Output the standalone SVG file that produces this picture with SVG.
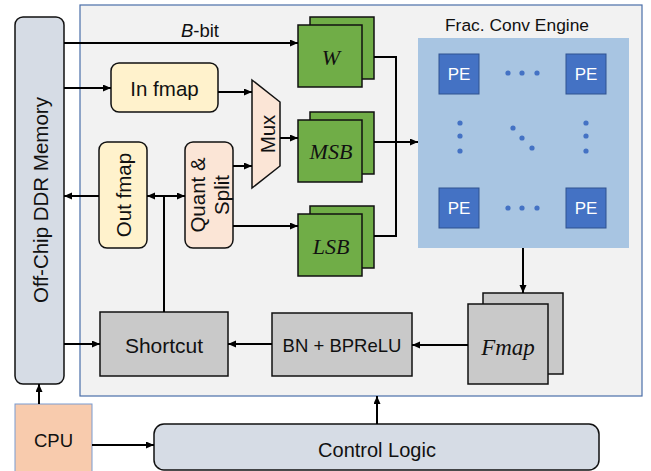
<svg xmlns="http://www.w3.org/2000/svg" width="651" height="471" viewBox="0 0 651 471">
<defs>
<marker id="ah" markerWidth="9" markerHeight="8" refX="8" refY="3.5" orient="auto-start-reverse" markerUnits="userSpaceOnUse">
<path d="M0,0 L8,3.5 L0,7 z" fill="#000"/>
</marker>
<style>
text{font-family:"Liberation Sans",Arial,sans-serif;font-size:20.5px;fill:#111;text-anchor:middle;dominant-baseline:central}
.it{font-family:"Liberation Serif","Times New Roman",serif;font-style:italic;font-size:22px}
.bx{stroke:#111;stroke-width:1.5}
.grn{fill:#70ad47;stroke:#111;stroke-width:1.5}
.gry{fill:#c9c9c9;stroke:#111;stroke-width:1.5}
.pe{fill:#4472c4;stroke:#2f528f;stroke-width:1}
.pet{fill:#fff;font-size:17px}
.dot{fill:#4472c4}
.ln{fill:none;stroke:#000;stroke-width:2}
.ar{marker-end:url(#ah)}
</style>
</defs>
<rect width="651" height="471" fill="#fff"/>
<g id="container"><rect x="80" y="5" width="562" height="391" fill="#f2f2f2" stroke="#4a6ea8" stroke-width="1.2"/></g>
<g id="ddr"><rect class="bx" x="15" y="17" width="49" height="367" rx="8" fill="#d6dce5"/><text transform="translate(40,200) rotate(-90)">Off-Chip DDR Memory</text></g>
<g id="infmap"><rect class="bx" x="111" y="63" width="107" height="49" rx="8" fill="#fff2cc"/><text x="164.5" y="88">In fmap</text></g>
<g id="outfmap"><rect class="bx" x="99" y="142" width="48" height="106" rx="8" fill="#fff2cc"/><text transform="translate(123,195) rotate(-90)">Out fmap</text></g>
<g id="quant"><rect class="bx" x="185" y="142" width="48" height="106" rx="8" fill="#fbe5d6"/><text transform="translate(197,195) rotate(-90)">Quant &amp;</text><text transform="translate(221,195) rotate(-90)">Split</text></g>
<g id="mux"><path class="bx" d="M252,80 L280,102 L280,166 L252,188 Z" fill="#fbe5d6"/><text transform="translate(267,134) rotate(-90)">Mux</text></g>
<g id="w"><rect class="grn" x="310" y="17" width="64" height="62"/><rect class="grn" x="298" y="25" width="64" height="62"/><text class="it" x="331" y="57">W</text></g>
<g id="msb"><rect class="grn" x="310" y="112" width="64" height="62"/><rect class="grn" x="298" y="120" width="64" height="62"/><text class="it" x="331" y="151">MSB</text></g>
<g id="lsb"><rect class="grn" x="310" y="206" width="64" height="62"/><rect class="grn" x="298" y="214" width="64" height="62"/><text class="it" x="331" y="246">LSB</text></g>
<g id="engine">
<text x="517" y="25" style="font-size:17.4px">Frac. Conv Engine</text>
<rect x="418" y="38" width="211" height="210" fill="#a8c5e2"/>
<rect class="pe" x="439" y="54" width="40" height="40"/><text class="pet" x="459" y="74">PE</text>
<rect class="pe" x="566" y="54" width="40" height="40"/><text class="pet" x="586" y="74">PE</text>
<rect class="pe" x="439" y="188" width="40" height="40"/><text class="pet" x="459" y="208">PE</text>
<rect class="pe" x="566" y="188" width="40" height="40"/><text class="pet" x="586" y="208">PE</text>
<circle class="dot" cx="508" cy="73" r="2.6"/><circle class="dot" cx="522" cy="73" r="2.6"/><circle class="dot" cx="537" cy="73" r="2.6"/>
<circle class="dot" cx="508" cy="208" r="2.6"/><circle class="dot" cx="522" cy="208" r="2.6"/><circle class="dot" cx="537" cy="208" r="2.6"/>
<circle class="dot" cx="460" cy="123" r="2.6"/><circle class="dot" cx="460" cy="136" r="2.6"/><circle class="dot" cx="460" cy="151" r="2.6"/>
<circle class="dot" cx="586" cy="123" r="2.6"/><circle class="dot" cx="586" cy="136" r="2.6"/><circle class="dot" cx="586" cy="151" r="2.6"/>
<circle class="dot" cx="513" cy="128" r="2.6"/><circle class="dot" cx="522" cy="138" r="2.6"/><circle class="dot" cx="532" cy="148" r="2.6"/>
</g>
<g id="fmap"><rect class="gry" x="483" y="293" width="80" height="81"/><rect class="gry" x="468" y="304" width="80" height="80"/><text class="it" x="508" y="347" style="font-size:23px">Fmap</text></g>
<g id="bn"><rect class="gry" x="272" y="313" width="140" height="63"/><text x="342" y="345" style="font-size:18.5px">BN + BPReLU</text></g>
<g id="shortcut"><rect class="gry" x="100" y="312" width="128" height="64"/><text x="164" y="345" style="font-size:21px">Shortcut</text></g>
<g id="cpu"><rect x="15" y="404" width="77" height="72" fill="#f8cbad" stroke="#7a9bd0" stroke-width="1"/><text x="53.5" y="440" style="font-size:18.5px">CPU</text></g>
<g id="control"><rect class="bx" x="154" y="424" width="445" height="46" rx="10" fill="#d6dce5"/><text x="377" y="450" style="font-size:20px">Control Logic</text></g>
<g id="connectors">
<path class="ln ar" d="M64,43 H298"/>
<text x="200" y="30" style="font-size:18.5px"><tspan style="font-style:italic">B</tspan>-bit</text>
<path class="ln ar" d="M64,88 H111"/>
<path class="ln ar" d="M218,92 H252"/>
<path class="ln ar" d="M233,166 H252"/>
<path class="ln ar" d="M280,138 H298"/>
<path class="ln ar" d="M233,226 H298"/>
<path class="ln" d="M374,57 H396 V236 H374"/>
<path class="ln ar" d="M374,142 H418"/>
<path class="ln ar" d="M523,248 V293"/>
<path class="ln ar" d="M468,345 H412"/>
<path class="ln ar" d="M272,344 H228"/>
<path class="ln ar" d="M64,344 H100"/>
<path class="ln" d="M164,312 V196"/>
<path class="ln ar" d="M147,196 H185" marker-start="url(#ah)"/>
<path class="ln ar" d="M99,196 H64"/>
<path class="ln ar" d="M39,404 V384"/>
<path class="ln ar" d="M92,445 H154"/>
<path class="ln ar" d="M377,424 V396"/>
</g>
</svg>
